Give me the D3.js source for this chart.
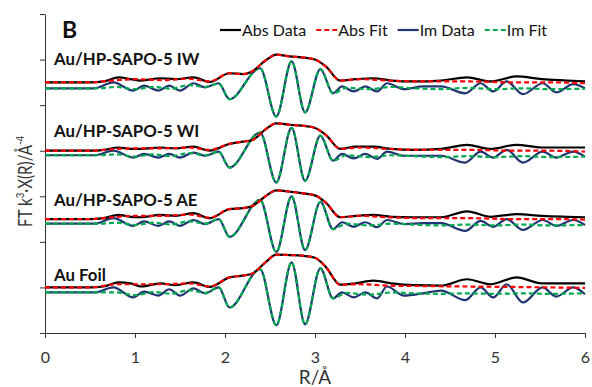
<!DOCTYPE html>
<html>
<head>
<meta charset="utf-8">
<script src="https://cdn.jsdelivr.net/npm/d3@7/dist/d3.min.js"></script>
<style>
  body { margin: 0; background: #fff; }
  svg { display: block; font-family: Lato, "Open Sans", sans-serif; }
</style>
</head>
<body>
<svg id="chart" width="592" height="387"></svg>
<script>
// samples, top to bottom
const sampleNames = ['Au/HP-SAPO-5 IW', 'Au/HP-SAPO-5 WI', 'Au/HP-SAPO-5 AE', 'Au Foil'];
const offsets = [5.5, 4, 2.5, 1];

const xTicks = [0, 1, 2, 3, 4, 5, 6];
const yTicks = [0, 1, 2, 3, 4, 5, 6, 7];

// |FT| data
const absR = [0, 0.5, 0.65, 0.82, 0.95, 1.07, 1.28, 1.45, 1.65, 1.83, 2.05, 2.2, 2.3, 2.45, 2.57, 2.72, 2.85, 3.0, 3.12, 3.28, 3.45, 3.65, 3.85, 4.1, 4.4, 4.69, 4.95, 5.24, 5.52, 5.8, 6.0];
const absIW = [0, 0, 0.02, 0.11, 0.07, 0.04, 0.09, 0.07, 0.11, 0.01, 0.2, 0.18, 0.24, 0.48, 0.61, 0.57, 0.55, 0.5, 0.35, 0.04, 0.07, 0.09, 0.04, 0.02, 0.04, 0.11, 0.02, 0.13, 0.07, 0.04, 0.02];
const absWI = [0, 0, 0.02, 0.07, 0.04, 0.04, 0.07, 0.05, 0.09, 0.0, 0.15, 0.2, 0.23, 0.47, 0.6, 0.57, 0.55, 0.5, 0.35, 0.04, 0.09, 0.09, 0.04, 0.02, 0.04, 0.13, 0.04, 0.13, 0.07, 0.07, 0.07];
const absAE = [0, 0, 0.02, 0.09, 0.05, 0.04, 0.09, 0.07, 0.13, 0.02, 0.22, 0.24, 0.28, 0.5, 0.63, 0.6, 0.57, 0.52, 0.36, 0.04, 0.07, 0.09, 0.05, 0.04, 0.04, 0.17, 0.05, 0.11, 0.07, 0.05, 0.04];
const absFoil = [0, 0, 0.02, 0.11, 0.09, 0.02, 0.09, 0.05, 0.11, 0.01, 0.22, 0.26, 0.3, 0.55, 0.72, 0.71, 0.7, 0.65, 0.45, 0.06, 0.09, 0.15, 0.09, 0.05, 0.04, 0.18, 0.07, 0.22, 0.09, 0.09, 0.09];

// |FT| fits
const fitAbsR = [0, 0.5, 0.8, 1.0, 1.3, 1.6, 1.83, 2.05, 2.2, 2.3, 2.45, 2.57, 2.72, 2.85, 3.0, 3.12, 3.28, 3.5, 3.8, 4.2, 4.7, 5.2, 5.6, 6.0];
const fitAbsIW = [0, 0, 0.05, 0.07, 0.05, 0.08, 0.02, 0.2, 0.18, 0.24, 0.48, 0.61, 0.57, 0.55, 0.5, 0.35, 0.04, 0.07, 0.04, 0.02, 0.02, 0.0, 0.0, -0.02];
const fitAbsWI = [0, 0, 0.04, 0.05, 0.05, 0.07, 0.02, 0.15, 0.2, 0.23, 0.47, 0.6, 0.57, 0.55, 0.5, 0.35, 0.04, 0.07, 0.04, 0.02, 0.02, 0.0, 0.0, -0.02];
const fitAbsAE = [0, 0, 0.05, 0.07, 0.07, 0.1, 0.03, 0.22, 0.24, 0.28, 0.5, 0.63, 0.6, 0.57, 0.52, 0.36, 0.04, 0.07, 0.04, 0.02, 0.02, 0.0, 0.0, -0.01];
const fitAbsFoil = [0, 0, 0.07, 0.07, 0.07, 0.09, 0.02, 0.22, 0.26, 0.3, 0.55, 0.72, 0.71, 0.7, 0.65, 0.45, 0.06, 0.07, 0.04, 0.03, 0.02, 0.01, 0.0, -0.01];

// Im data
const imR = [0, 0.55, 0.76, 0.98, 1.1, 1.26, 1.38, 1.5, 1.65, 1.78, 1.93, 2.05, 2.39, 2.57, 2.74, 2.89, 3.06, 3.2, 3.3, 3.43, 3.56, 3.69, 3.8, 3.99, 4.2, 4.4, 4.67, 4.84, 4.98, 5.13, 5.31, 5.53, 5.68, 5.87, 6.0];
const imIW = [-0.13, -0.13, 0, -0.18, -0.07, -0.18, -0.07, -0.18, -0.02, -0.11, -0.02, -0.37, 0.31, -0.75, 0.46, -0.66, 0.29, -0.24, -0.09, -0.2, -0.09, -0.2, -0.02, -0.15, -0.09, -0.09, -0.24, -0.02, -0.2, 0.02, -0.26, -0.02, -0.22, -0.04, -0.13];
const imWI = [-0.1, -0.1, 0, -0.15, -0.07, -0.15, -0.07, -0.15, -0.04, -0.11, -0.02, -0.37, 0.4, -0.7, 0.5, -0.66, 0.33, -0.22, -0.07, -0.17, -0.07, -0.18, -0.02, -0.11, -0.11, -0.11, -0.26, -0.02, -0.15, 0.02, -0.26, -0.02, -0.15, -0.02, -0.13];
const imAE = [-0.1, -0.1, 0.02, -0.15, -0.05, -0.15, -0.05, -0.15, -0.02, -0.11, 0, -0.39, 0.42, -0.72, 0.5, -0.68, 0.38, -0.22, -0.07, -0.17, -0.07, -0.18, -0.02, -0.11, -0.09, -0.09, -0.26, -0.04, -0.17, 0.0, -0.24, -0.02, -0.15, -0.02, -0.13];
const imFoil = [-0.11, -0.11, 0, -0.22, -0.09, -0.18, -0.04, -0.18, -0.02, -0.13, 0, -0.44, 0.4, -0.83, 0.55, -0.81, 0.42, -0.24, -0.11, -0.22, -0.11, -0.24, 0.02, -0.18, -0.13, -0.07, -0.28, 0, -0.22, 0.07, -0.33, 0, -0.2, 0, -0.15];

// Im fits
const fitImR = [0, 0.6, 0.8, 1.0, 1.2, 1.4, 1.6, 1.78, 1.93, 2.05, 2.39, 2.57, 2.74, 2.89, 3.06, 3.2, 3.35, 3.6, 3.85, 4.1, 4.4, 4.7, 5.0, 5.3, 5.6, 6.0];
const fitImIW = [-0.13, -0.13, -0.1, -0.15, -0.1, -0.14, -0.06, -0.1, -0.03, -0.37, 0.31, -0.75, 0.46, -0.66, 0.29, -0.24, -0.12, -0.15, -0.1, -0.13, -0.15, -0.12, -0.15, -0.13, -0.15, -0.14];
const fitImWI = [-0.1, -0.1, -0.08, -0.13, -0.08, -0.12, -0.05, -0.1, -0.02, -0.37, 0.4, -0.7, 0.5, -0.66, 0.33, -0.22, -0.1, -0.14, -0.1, -0.12, -0.14, -0.12, -0.14, -0.12, -0.14, -0.13];
const fitImAE = [-0.1, -0.1, -0.08, -0.13, -0.08, -0.12, -0.05, -0.1, 0, -0.39, 0.42, -0.72, 0.5, -0.68, 0.38, -0.22, -0.1, -0.14, -0.1, -0.12, -0.14, -0.12, -0.14, -0.12, -0.14, -0.13];
const fitImFoil = [-0.11, -0.11, -0.11, -0.17, -0.1, -0.14, -0.06, -0.12, 0, -0.44, 0.4, -0.83, 0.55, -0.81, 0.42, -0.24, -0.12, -0.16, -0.11, -0.13, -0.14, -0.13, -0.14, -0.13, -0.14, -0.13];

const series = [
  { name: 'Abs Data', color: '#000000', dash: null },
  { name: 'Abs Fit', color: '#ff0000', dash: '5,3' },
  { name: 'Im Data', color: '#1f3470', dash: null },
  { name: 'Im Fit', color: '#00a850', dash: '5,3' }
];

const samples = [
  { abs: absIW, fitAbs: fitAbsIW, im: imIW, fitIm: fitImIW },
  { abs: absWI, fitAbs: fitAbsWI, im: imWI, fitIm: fitImWI },
  { abs: absAE, fitAbs: fitAbsAE, im: imAE, fitIm: fitImAE },
  { abs: absFoil, fitAbs: fitAbsFoil, im: imFoil, fitIm: fitImFoil }
];
const labelGap = [17, 14, 13, 6];

const margin = { top: 14, right: 7, bottom: 54, left: 45 };
const width = 592 - margin.left - margin.right;
const height = 387 - margin.top - margin.bottom;

const svg = d3.select('#chart')
  .append('g')
  .attr('transform', `translate(${margin.left},${margin.top})`);

const x = d3.scaleLinear().domain([0, 6]).range([0, width]);
const y = d3.scaleLinear().domain([0, 7]).range([height, 0]);

// axes
const xAxis = svg.append('g')
  .attr('transform', `translate(0,${height})`)
  .call(d3.axisBottom(x).tickValues(xTicks).tickSize(5).tickSizeOuter(0).tickPadding(14).tickFormat(d3.format('d')));
xAxis.selectAll('text').attr('font-size', 16).attr('fill', '#333').style('font-family', 'Lato, sans-serif');

svg.append('g')
  .call(d3.axisLeft(y).tickValues(yTicks).tickSize(5).tickSizeOuter(0).tickFormat(''));

svg.selectAll('.domain, .tick line').attr('stroke', '#333').attr('stroke-width', 1);

// axis titles
svg.append('text')
  .attr('x', width / 2)
  .attr('y', height + 51)
  .attr('text-anchor', 'middle')
  .attr('font-size', 19)
  .attr('fill', '#333')
  .text('R/Å');

// narrow face in the original, so squeeze along the text direction
const yTitle = svg.append('text')
  .attr('transform', `translate(${-13},${height / 2 + 8}) rotate(-90) scale(0.8,1)`)
  .attr('text-anchor', 'middle')
  .attr('font-size', 19)
  .attr('fill', '#333');
yTitle.append('tspan').text('FT k');
yTitle.append('tspan').attr('font-size', 12).attr('dy', -8).text('3');
yTitle.append('tspan').attr('dy', 8).text('·X(R)/Å');
yTitle.append('tspan').attr('font-size', 12).attr('dy', -8).text('-4');

// panel letter
svg.append('text')
  .attr('x', 17)
  .attr('y', 24)
  .attr('font-size', 23)
  .attr('font-weight', 'bold')
  .attr('fill', '#111')
  .text('B');

// spectra
const line = d3.line()
  .x(d => x(d[0]))
  .y(d => y(d[1]))
  .curve(d3.curveMonotoneX);

samples.forEach((s, i) => {
  const off = offsets[i];
  const toPts = (rs, vs) => rs.map((r, j) => [r, vs[j] + off]);
  const sets = [
    toPts(absR, s.abs),
    toPts(fitAbsR, s.fitAbs),
    toPts(imR, s.im),
    toPts(fitImR, s.fitIm)
  ];
  // Im pair first, Abs pair on top; each fit over its data
  [2, 3, 0, 1].forEach(k => {
    svg.append('path')
      .datum(sets[k])
      .attr('fill', 'none')
      .attr('stroke', series[k].color)
      .attr('stroke-width', 2.2)
      .attr('stroke-dasharray', series[k].dash)
      .attr('d', line);
  });

  svg.append('text')
    .attr('x', 9)
    .attr('y', y(off) - labelGap[i])
    .attr('font-size', 16.8)
    .attr('font-weight', 'bold')
    .attr('fill', '#111')
    .text(sampleNames[i]);
});

// legend
const legend = svg.append('g').attr('transform', `translate(${220 - margin.left},${30 - margin.top})`);
let lx = 0;
series.forEach(sr => {
  legend.append('line')
    .attr('x1', lx).attr('x2', lx + 21)
    .attr('y1', 0).attr('y2', 0)
    .attr('stroke', sr.color)
    .attr('stroke-width', 2.2)
    .attr('stroke-dasharray', sr.dash);
  const t = legend.append('text')
    .attr('x', lx + 22)
    .attr('y', 5.5)
    .attr('font-size', 16)
    .attr('fill', '#111')
    .text(sr.name);
  lx += 22 + t.node().getComputedTextLength() + 10;
});
</script>
</body>
</html>
